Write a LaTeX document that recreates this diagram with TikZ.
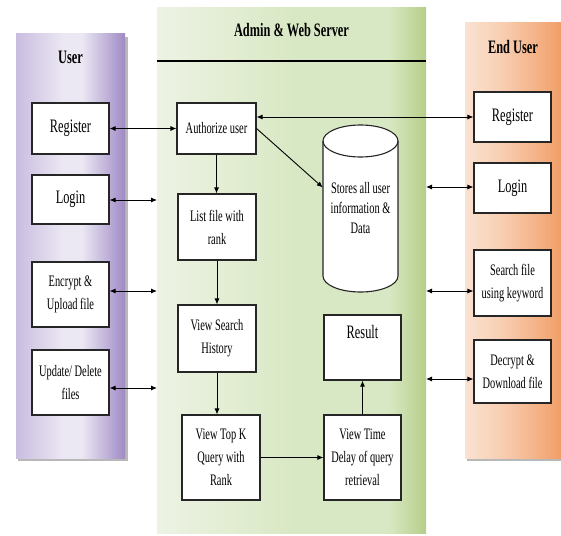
\documentclass[tikz,border=0pt]{standalone}
\usepackage{fontspec}
\setmainfont{Liberation Serif}[FakeStretch=0.65]
\usetikzlibrary{arrows.meta,calc}
\definecolor{uL}{HTML}{C9BDDF}
\definecolor{uM}{HTML}{ECE8F3}
\definecolor{uR}{HTML}{9F8AC5}
\definecolor{gL}{HTML}{EDF3E4}
\definecolor{gM}{HTML}{D9E8C4}
\definecolor{gR}{HTML}{B5CE89}
\definecolor{oL}{HTML}{FAE2D2}
\definecolor{oM}{HTML}{F8CDB0}
\definecolor{oR}{HTML}{F19E68}
\pgfdeclarehorizontalshading{usershade}{100bp}{color(0bp)=(uL); color(25bp)=(uL); color(47bp)=(uM); color(55bp)=(uM); color(75bp)=(uR); color(100bp)=(uR)}
\pgfdeclarehorizontalshading{greenshade}{100bp}{color(0bp)=(gL); color(25bp)=(gL); color(50bp)=(gM); color(68bp)=(gM); color(75bp)=(gR); color(100bp)=(gR)}
\pgfdeclarehorizontalshading{orangeshade}{100bp}{color(0bp)=(oL); color(25bp)=(oL); color(45bp)=(oM); color(75bp)=(oR); color(100bp)=(oR)}
\newcommand\fszL{\fontsize{19}{24}\selectfont}
\newcommand\fszM{\fontsize{16}{23}\selectfont}
\newcommand\fszD{\fontsize{16}{20}\selectfont}
\begin{document}
\begin{tikzpicture}[x=1pt,y=-1pt,
  box/.style={draw=black!85, line width=1.1pt, fill=white, align=center, inner sep=1pt},
  arr/.style={line width=0.9pt, -{Latex[length=6pt,width=5pt]}},
  biarr/.style={line width=0.9pt, {Latex[length=6pt,width=5pt]}-{Latex[length=6pt,width=5pt]}},
  ttl/.style={font={\bfseries\fontsize{19}{22}\selectfont}}]
\fill[white] (0,0) rectangle (561,535);
\useasboundingbox (0,0) rectangle (561,535);
% panels
\fill[black!28] (18,37) rectangle (128,461);
\shade[shading=usershade] (16,34) rectangle (125,458);
\shade[shading=greenshade] (157,8) rectangle (426,533);
\fill[black!28] (467,26) rectangle (563,461);
\shade[shading=orangeshade] (465,23) rectangle (561,458);
\draw[line width=1.2pt] (157,61) -- (426,61);
% titles
\node[ttl] (tuser) at (70.5,57) {User};
\node[ttl] (tadmin) at (291.5,30) {Admin \& Web Server};
\node[ttl] (tend) at (513,47) {End User};
% user boxes
\node[box, minimum width=77, minimum height=51, font=\fszL] (ureg) at (70.5,128.5) {Register};
\node[box, minimum width=77, minimum height=49, font=\fszL] (ulogin) at (70.5,199.5) {Login};
\node[box, minimum width=77, minimum height=65, font=\fszM] (uenc) at (70.5,294.5) {Encrypt \&\\Upload file};
\node[box, minimum width=77, minimum height=65, font=\fszM] (uupd) at (70.5,382.5) {Update/ Delete\\files};
% admin boxes
\node[box, minimum width=79, minimum height=51, font=\fszM] (auth) at (216.5,128.5) {Authorize user};
\node[box, minimum width=78, minimum height=66, font=\fszM] (list) at (217,227) {List file with\\rank};
\node[box, minimum width=78, minimum height=67, font=\fszM] (search) at (217,338.5) {View Search\\History};
\node[box, minimum width=78, minimum height=85, font=\fszM] (topk) at (221,457.5) {View Top K\\Query with\\Rank};
\node[box, minimum width=77, minimum height=85, font=\fszM] (time) at (362.5,457.5) {View Time\\Delay of query\\retrieval};
\node[box, minimum width=77, minimum height=65, font=\fszL] (result) at (362.5,347.5) {Result\\\strut};
% database cylinder
\filldraw[fill=white, draw=black!85, line width=1.1pt] (323,141) -- (323,276)
  arc[start angle=180, end angle=0, x radius=37.5, y radius=16] -- (398,141)
  arc[start angle=0, end angle=-180, x radius=37.5, y radius=16] -- cycle;
\draw[black!85, line width=1.1pt] (398,141) arc[start angle=0, end angle=180, x radius=37.5, y radius=16];
\node[minimum width=75, minimum height=167, align=center, font=\fszD, inner sep=0pt] (db) at (360.5,208.5) {Stores all user\\information \&\\Data};
% end user boxes
\node[box, minimum width=77, minimum height=50, font=\fszL] (ereg) at (512.5,117) {Register};
\node[box, minimum width=77, minimum height=50, font=\fszL] (elogin) at (512.5,188) {Login};
\node[box, minimum width=77, minimum height=66, font=\fszM] (esearch) at (512.5,283) {Search file\\using keyword};
\node[box, minimum width=77, minimum height=63, font=\fszM] (edec) at (512.5,371.5) {Decrypt \&\\Download file};
% panel edge coordinates
\coordinate (gl2) at (157,200);
\coordinate (gl3) at (157,291);
\coordinate (gl4) at (157,388);
\coordinate (gr2) at (426,187);
\coordinate (gr3) at (426,291);
\coordinate (gr4) at (426,379);
% connectors
\draw[biarr] (ureg.east) -- (auth.west);
\draw[biarr] (ulogin.east |- gl2) -- (gl2);
\draw[biarr] (uenc.east |- gl3) -- (gl3);
\draw[biarr] (uupd.east |- gl4) -- (gl4);
\draw[biarr] (auth.east |- ereg.west) -- (ereg.west);
\draw[biarr] (gr2) -- (elogin.west |- gr2);
\draw[biarr] (gr3) -- (esearch.west |- gr3);
\draw[biarr] (gr4) -- (edec.west |- gr4);
\draw[arr] (auth.east) -- ($(db.west)+(0,-21)$);
\draw[arr] (auth.south) -- (auth.south |- list.north);
\draw[arr] (list.south) -- (list.south |- search.north);
\draw[arr] (search.south) -- (search.south |- topk.north);
\draw[arr] (topk.east) -- (time.west);
\draw[arr] (time.north) -- (result.south);
\end{tikzpicture}
\end{document}
